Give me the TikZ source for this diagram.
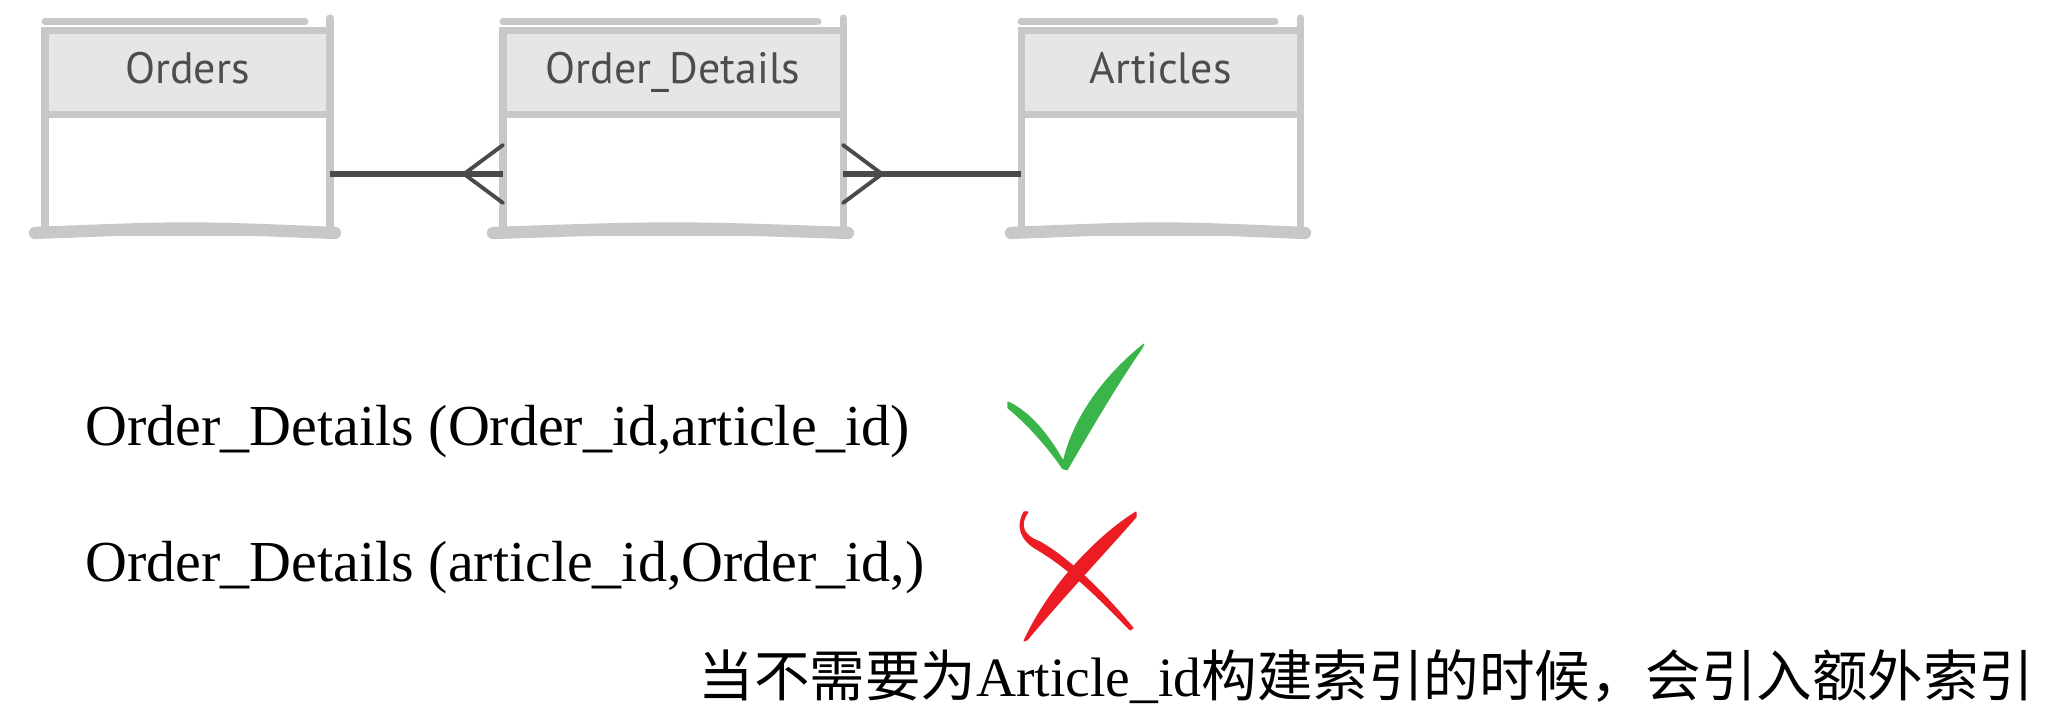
\documentclass[tikz,border=0pt]{standalone}
\usepackage{fontspec}
\setmainfont{Liberation Serif}
\newfontfamily\cjk{Noto Sans CJK SC}
\newfontfamily\hand{PT Sans}
\usetikzlibrary{
  positioning,  % Function "of" (e.g. [below=of x])
}
\definecolor{boxline}{HTML}{C8C8C8}
\definecolor{boxhead}{HTML}{E6E6E6}
\definecolor{headtext}{HTML}{4D4D4D}
\definecolor{relline}{HTML}{4A4A4A}
\definecolor{okgreen}{HTML}{3AB54A}
\definecolor{badred}{HTML}{EC1C24}
\def\myheadh{0.84cm}
\def\mybodyh{1.18cm}
\def\mycrowl{3.9mm}
\def\mycroww{2.9mm}
\tikzset{
  table head/.style={
    draw=boxline,
    fill=boxhead,
    line width=2pt,
    outer sep=0pt,
    inner sep=0pt,
    minimum height=\myheadh,
    text height=1.8ex,
    text depth=0.5ex,
    text=headtext,
    font=\hand\fontsize{12.5}{14}\selectfont
  },
  table body/.style={
    draw=boxline,
    fill=white,
    line width=2pt,
    outer sep=0pt,
    inner sep=0pt,
    minimum height=\mybodyh
  },
  sketch/.style={
    draw=boxline,
    line width=2pt,
    line cap=round
  },
  relation/.style={
    draw=relline,
    line width=1.6pt
  },
  crow/.style={
    draw=relline,
    line width=1.1pt,
    line cap=round
  },
  example line/.style={
    anchor=base west,
    inner sep=0pt,
    font=\fontsize{16.5}{20}\selectfont
  },
  brush/.style={
    draw=#1,
    fill=#1,
    line width=0.3pt,
    line join=round
  }
}

\begin{document}
\begin{tikzpicture}
\useasboundingbox (0,0) rectangle (20.62,7.14);
% tables
\node[table head,minimum width=2.85cm] (orders)   at (1.875,6.41) {Orders};
\node[table head,minimum width=3.40cm] (details)  at (6.73,6.41)  {Order\_Details};
\node[table head,minimum width=2.79cm] (articles) at (11.605,6.41){Articles};
\node[table body,minimum width=2.85cm] (ordersbody)   [below=0pt of orders]   {};
\node[table body,minimum width=3.40cm] (detailsbody)  [below=0pt of details]  {};
\node[table body,minimum width=2.79cm] (articlesbody) [below=0pt of articles] {};
\foreach \t in {orders,details,articles}{
  \draw[sketch] ([yshift=0.9mm]\t.north west) -- ([xshift=-2.5mm,yshift=0.9mm]\t.north east);
  \draw[sketch] (\t.north east) -- ++(0,1.3mm);
  \draw[sketch,line width=3.5pt] ([xshift=-1mm]\t body.south west)
    .. controls ([yshift=0.6mm]\t body.south) .. ([xshift=0.5mm]\t body.south east);
}
% relations
\draw[relation] (ordersbody.east) -- (detailsbody.west);
\draw[crow] ([xshift=-\mycrowl]detailsbody.west) -- ([yshift=\mycroww]detailsbody.west)
            ([xshift=-\mycrowl]detailsbody.west) -- ([yshift=-\mycroww]detailsbody.west);
\draw[relation] (detailsbody.east) -- (articlesbody.west);
\draw[crow] ([xshift=\mycrowl]detailsbody.east) -- ([yshift=\mycroww]detailsbody.east)
            ([xshift=\mycrowl]detailsbody.east) -- ([yshift=-\mycroww]detailsbody.east);
% index variants
\node[example line] (good) at (0.85,2.68) {Order\_Details (Order\_id,article\_id)};
\node[example line] (bad)  at (0.85,1.32) {Order\_Details (article\_id,Order\_id,)};
\node[example line,font=\fontsize{15.8}{19}\selectfont] (note) at (6.98,0.17)
  {\cjk 当不需要为\rmfamily Article\_id\cjk 构建索引的时候，会引入额外索引};
% tick
\filldraw[brush=okgreen] (10.08,3.12) .. controls (10.30,3.02) and (10.50,2.78) .. (10.67,2.46)
  -- (10.63,2.45) .. controls (10.50,2.64) and (10.30,2.88) .. (10.08,3.06) -- cycle;
\filldraw[brush=okgreen] (10.62,2.46) .. controls (10.70,2.90) and (11.00,3.35) .. (11.44,3.70)
  -- (11.42,3.66) .. controls (11.12,3.22) and (10.88,2.80) .. (10.67,2.44) -- cycle;
% cross
\filldraw[brush=badred] (11.36,2.02) .. controls (11.00,1.80) and (10.50,1.30) .. (10.24,0.73)
  -- (10.27,0.74) .. controls (10.64,1.18) and (11.09,1.66) .. (11.36,1.97) -- cycle;
\filldraw[brush=badred] (10.28,2.02) .. controls (10.18,1.88) and (10.24,1.78) .. (10.40,1.72)
  .. controls (10.70,1.55) and (11.05,1.20) .. (11.33,0.86)
  -- (11.30,0.84) .. controls (11.00,1.15) and (10.70,1.45) .. (10.38,1.64)
  .. controls (10.20,1.74) and (10.16,1.88) .. (10.24,2.02) -- cycle;
\end{tikzpicture}
\end{document}
